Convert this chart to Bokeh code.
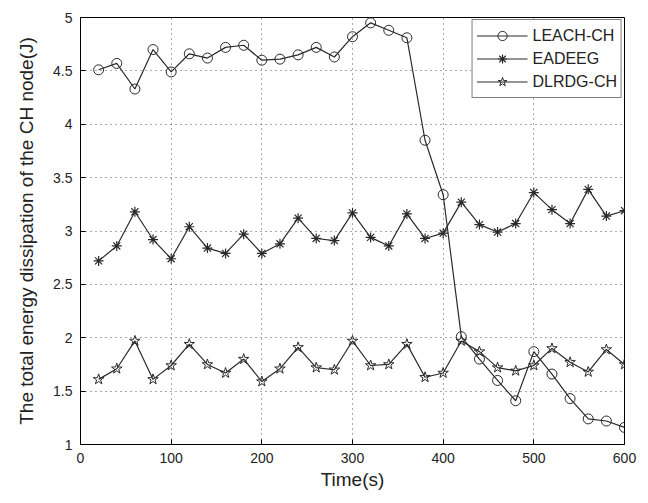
from bokeh.plotting import figure
from bokeh.models import Range1d, FixedTicker, NumeralTickFormatter, Legend
from bokeh.embed import file_html
from bokeh.resources import INLINE

# ---- data ----
time_s = [20, 40, 60, 80, 100, 120, 140, 160, 180, 200,
          220, 240, 260, 280, 300, 320, 340, 360, 380, 400,
          420, 440, 460, 480, 500, 520, 540, 560, 580, 600]
leach_ch = [4.51, 4.57, 4.33, 4.70, 4.49, 4.66, 4.62, 4.72, 4.74, 4.60,
            4.61, 4.65, 4.72, 4.63, 4.82, 4.95, 4.88, 4.81, 3.85, 3.34,
            2.01, 1.80, 1.60, 1.41, 1.87, 1.66, 1.43, 1.24, 1.22, 1.16]
eadeeg = [2.72, 2.86, 3.18, 2.92, 2.74, 3.04, 2.84, 2.79, 2.97, 2.79,
          2.88, 3.12, 2.93, 2.91, 3.17, 2.94, 2.86, 3.16, 2.93, 2.98,
          3.27, 3.06, 2.99, 3.07, 3.36, 3.20, 3.07, 3.39, 3.14, 3.19]
dlrdg_ch = [1.61, 1.71, 1.97, 1.61, 1.74, 1.94, 1.75, 1.67, 1.80, 1.59,
            1.71, 1.91, 1.72, 1.70, 1.97, 1.74, 1.75, 1.94, 1.63, 1.67,
            1.97, 1.87, 1.72, 1.69, 1.74, 1.90, 1.77, 1.68, 1.89, 1.75]
x_ticks = [0, 100, 200, 300, 400, 500, 600]
y_ticks = [1, 1.5, 2, 2.5, 3, 3.5, 4, 4.5, 5]
series_names = ["LEACH-CH", "EADEEG", "DLRDG-CH"]

FONT = "Liberation Sans"
LINE_COL = "#2a2a2a"

p = figure(width=648, height=503, output_backend="svg", toolbar_location=None,
           x_range=Range1d(0, 600), y_range=Range1d(1, 5),
           min_border_left=80, min_border_right=24, min_border_top=17, min_border_bottom=59)
p.background_fill_color = "white"
p.border_fill_color = "white"
p.outline_line_color = "black"
p.outline_line_width = 1

# axes
for ax in (p.xaxis[0], p.yaxis[0]):
    ax.major_tick_in = 5
    ax.major_tick_out = 0
    ax.minor_tick_in = 0
    ax.minor_tick_out = 0
    ax.axis_line_color = "black"
    ax.major_tick_line_color = "black"
    ax.major_label_text_font = FONT
    ax.major_label_text_font_size = "14px"
    ax.major_label_text_color = "#222222"
    ax.axis_label_text_font = FONT
    ax.axis_label_text_font_size = "19px"
    ax.axis_label_text_font_style = "normal"
    ax.axis_label_text_color = "#222222"

p.xaxis.ticker = FixedTicker(ticks=x_ticks)
p.yaxis.ticker = FixedTicker(ticks=y_ticks)
p.yaxis.formatter = NumeralTickFormatter(format="0.[0]")
p.xaxis.axis_label = "Time(s)"
p.yaxis.axis_label = "The total energy dissipation of the CH node(J)"
p.xaxis.major_label_standoff = 8
p.xaxis.axis_label_standoff = 3
p.yaxis.major_label_standoff = 8
p.yaxis.axis_label_standoff = 13

# grid
for g in (p.xgrid[0], p.ygrid[0]):
    g.grid_line_color = "#444444"
    g.grid_line_dash = "1 4"
    g.grid_line_width = 1
    g.grid_line_alpha = 0.9
p.xgrid.ticker = FixedTicker(ticks=x_ticks)
p.ygrid.ticker = FixedTicker(ticks=y_ticks)

# series
l1 = p.line(time_s, leach_ch, line_color=LINE_COL, line_width=1.2)
m1 = p.scatter(time_s, leach_ch, marker="circle", size=10, fill_color=None,
               line_color=LINE_COL, line_width=1)
l2 = p.line(time_s, eadeeg, line_color=LINE_COL, line_width=1.2)
m2 = p.scatter(time_s, eadeeg, marker="asterisk", size=10, fill_color=None,
               line_color=LINE_COL, line_width=1.2)
l3 = p.line(time_s, dlrdg_ch, line_color=LINE_COL, line_width=1.2)
m3 = p.scatter(time_s, dlrdg_ch, marker="star", size=11, fill_color=None,
               line_color=LINE_COL, line_width=1)

legend = Legend(items=[(series_names[0], [l1, m1]),
                       (series_names[1], [l2, m2]),
                       (series_names[2], [l3, m3])],
                location="top_right")
legend.margin = 2
legend.padding = 4
legend.spacing = 0
legend.glyph_width = 51
legend.glyph_height = 23
legend.label_height = 23
legend.label_standoff = 5
legend.label_text_font = FONT
legend.label_text_font_size = "16px"
legend.label_text_color = "#222222"
legend.border_line_color = "black"
legend.border_line_width = 1
legend.background_fill_color = "white"
legend.background_fill_alpha = 1
p.add_layout(legend, "center")

open("out.html", "w").write(file_html(p, INLINE))
